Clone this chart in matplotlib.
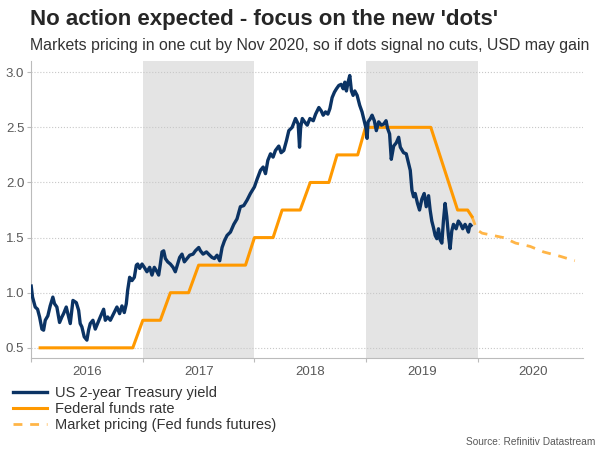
import matplotlib
matplotlib.use('Agg')
import matplotlib.pyplot as plt
from matplotlib.lines import Line2D

plt.rcParams['font.family'] = ['Liberation Sans', 'DejaVu Sans']

# US 2-year Treasury yield (year as decimal, %)
ust_x = [2016.000, 2016.012, 2016.036, 2016.057, 2016.075, 2016.096, 2016.111, 2016.126,
         2016.149, 2016.170, 2016.194, 2016.209, 2016.230, 2016.254, 2016.275, 2016.290,
         2016.314, 2016.335, 2016.350, 2016.374, 2016.404, 2016.425, 2016.439, 2016.454,
         2016.475, 2016.499, 2016.514, 2016.529, 2016.553, 2016.574, 2016.598, 2016.619,
         2016.649, 2016.664, 2016.685, 2016.709, 2016.738, 2016.768, 2016.792, 2016.813,
         2016.834, 2016.852, 2016.864, 2016.882, 2016.903, 2016.924, 2016.942, 2016.954,
         2016.972, 2016.993, 2017.013, 2017.037, 2017.061, 2017.082, 2017.103, 2017.127,
         2017.142, 2017.157, 2017.172, 2017.187, 2017.202, 2017.223, 2017.247, 2017.271,
         2017.291, 2017.312, 2017.330, 2017.351, 2017.372, 2017.396, 2017.420, 2017.450,
         2017.471, 2017.501, 2017.516, 2017.540, 2017.570, 2017.599, 2017.620, 2017.641,
         2017.665, 2017.689, 2017.710, 2017.731, 2017.755, 2017.785, 2017.815, 2017.844,
         2017.874, 2017.904, 2017.934, 2017.964, 2018.000, 2018.024, 2018.054, 2018.078,
         2018.099, 2018.120, 2018.144, 2018.167, 2018.188, 2018.218, 2018.239, 2018.263,
         2018.287, 2018.308, 2018.338, 2018.368, 2018.392, 2018.404,
         2018.414, 2018.429, 2018.449, 2018.473, 2018.497, 2018.527, 2018.548, 2018.577,
         2018.598, 2018.616, 2018.637, 2018.658, 2018.676, 2018.696, 2018.717, 2018.735,
         2018.756, 2018.777, 2018.795, 2018.810, 2018.824, 2018.839, 2018.854, 2018.869,
         2018.884, 2018.899, 2018.920, 2018.943, 2018.964, 2018.985, 2019.000, 2019.009,
         2019.018, 2019.039, 2019.054, 2019.074, 2019.092, 2019.113, 2019.137, 2019.158,
         2019.179, 2019.193, 2019.211, 2019.226, 2019.247, 2019.271, 2019.292, 2019.307,
         2019.336, 2019.360, 2019.381, 2019.396, 2019.411, 2019.426, 2019.440, 2019.461,
         2019.479, 2019.500, 2019.521, 2019.539, 2019.560, 2019.574, 2019.589, 2019.604,
         2019.619, 2019.634, 2019.649, 2019.664, 2019.679, 2019.693, 2019.708, 2019.723,
         2019.738, 2019.753, 2019.768, 2019.783, 2019.807, 2019.827, 2019.848, 2019.866,
         2019.887, 2019.902, 2019.917, 2019.932, 2019.940]
ust_y = [1.06, 0.96, 0.87, 0.85, 0.78, 0.67, 0.66, 0.75,
         0.79, 0.88, 0.96, 0.90, 0.87, 0.73, 0.78, 0.81,
         0.87, 0.78, 0.72, 0.93, 0.91, 0.84, 0.72, 0.69,
         0.60, 0.57, 0.66, 0.72, 0.75, 0.67, 0.73, 0.78,
         0.85, 0.75, 0.78, 0.75, 0.81, 0.87, 0.81, 0.88,
         0.82, 0.90, 1.02, 1.14, 1.11, 1.14, 1.25, 1.26,
         1.22, 1.26, 1.23, 1.19, 1.23, 1.16, 1.23, 1.19,
         1.16, 1.26, 1.37, 1.38, 1.31, 1.28, 1.26, 1.23,
         1.19, 1.26, 1.32, 1.35, 1.28, 1.31, 1.34, 1.35,
         1.38, 1.41, 1.38, 1.35, 1.37, 1.34, 1.32, 1.31,
         1.34, 1.29, 1.41, 1.47, 1.52, 1.55, 1.62, 1.67,
         1.78, 1.79, 1.84, 1.90, 1.96, 2.03, 2.11, 2.14,
         2.08, 2.20, 2.26, 2.23, 2.29, 2.33, 2.27, 2.29,
         2.38, 2.47, 2.50, 2.58, 2.53, 2.32,
         2.50, 2.58, 2.55, 2.52, 2.58, 2.56, 2.62, 2.68,
         2.65, 2.61, 2.64, 2.62, 2.67, 2.77, 2.82, 2.85,
         2.88, 2.89, 2.85, 2.91, 2.83, 2.91, 2.97, 2.83,
         2.79, 2.83, 2.79, 2.70, 2.64, 2.55, 2.49, 2.40,
         2.55, 2.58, 2.61, 2.56, 2.47, 2.55, 2.52, 2.53,
         2.56, 2.49, 2.44, 2.21, 2.33, 2.36, 2.41, 2.32,
         2.27, 2.26, 2.17, 2.11, 1.93, 1.87, 1.90, 1.81,
         1.75, 1.85, 1.90, 1.78, 1.88, 1.75, 1.65, 1.59,
         1.52, 1.49, 1.58, 1.48, 1.45, 1.65, 1.81, 1.69,
         1.52, 1.40, 1.56, 1.62, 1.58, 1.65, 1.62, 1.58,
         1.62, 1.59, 1.55, 1.62, 1.61]

# Federal funds rate (upper bound)
ffr_x = [2016.08, 2016.91, 2017.00, 2017.157, 2017.247, 2017.41, 2017.50, 2017.92,
         2018.00, 2018.167, 2018.248, 2018.41, 2018.50, 2018.667, 2018.74, 2018.925,
         2018.995, 2019.58, 2019.82, 2019.91, 2019.949]
ffr_y = [0.50, 0.50, 0.75, 0.75, 1.00, 1.00, 1.25, 1.25,
         1.50, 1.50, 1.75, 1.75, 2.00, 2.00, 2.25, 2.25,
         2.50, 2.50, 1.75, 1.75, 1.69]

# Market pricing (Fed funds futures)
fut_x = [2019.949, 2019.994, 2020.04, 2020.23, 2020.34, 2020.47, 2020.59, 2020.74, 2020.87]
fut_y = [1.69, 1.57, 1.54, 1.50, 1.45, 1.42, 1.37, 1.33, 1.29]

years = [2016, 2017, 2018, 2019, 2020]
shaded_years = [2017, 2019]

navy = '#0b3364'
orange = '#ff9900'
light_orange = '#ffb547'
grey_txt = '#595959'

fig = plt.figure(figsize=(6, 4.5), dpi=100)
ax = fig.add_axes([0.052, 0.205, 0.919, 0.659])

# grey bands for every other year
for y0 in shaded_years:
    ax.axvspan(y0, y0 + 1, color='#e4e4e4', lw=0, zorder=0)

ax.plot(fut_x, fut_y, color=light_orange, lw=2, ls=(0, (3.2, 2.8)), zorder=2)
ax.plot(ffr_x, ffr_y, color=orange, lw=2.2, zorder=3)
ax.plot(ust_x, ust_y, color=navy, lw=2.4, zorder=4)

ax.set_xlim(2016.0, 2020.94)
ax.set_ylim(0.41, 3.1)
ax.set_yticks([0.5, 1.0, 1.5, 2.0, 2.5, 3.0])
ax.set_yticklabels(['0.5', '1.0', '1.5', '2.0', '2.5', '3.0'])
ax.set_xticks(years)
ax.set_xticklabels([])
ax.set_xticks([y + 0.5 for y in years], minor=True)
ax.set_xticklabels([str(y) for y in years], minor=True)
ax.tick_params(axis='x', which='minor', length=0, pad=6, labelsize=9.5, labelcolor=grey_txt)
ax.tick_params(axis='x', which='major', length=3, color='#bbbbbb')
ax.tick_params(axis='y', length=3, color='#bbbbbb', labelsize=9.5, labelcolor=grey_txt, pad=2)
ax.grid(axis='y', color='#c8c8c8', ls=':', lw=0.8)
ax.set_axisbelow(True)
for s in ['top', 'right']:
    ax.spines[s].set_visible(False)
for s in ['left', 'bottom']:
    ax.spines[s].set_color('#bbbbbb')

fig.text(0.05, 0.957, "No action expected - focus on the new 'dots'", fontsize=16,
         fontweight='bold', color='#262626', va='center')
fig.text(0.05, 0.898, 'Markets pricing in one cut by Nov 2020, so if dots signal no cuts, USD may gain',
         fontsize=11.4, color='#333333', va='center')

handles = [Line2D([], [], color=navy, lw=2.4),
           Line2D([], [], color=orange, lw=2.2),
           Line2D([], [], color=light_orange, lw=2, ls=(0, (3.2, 2.8)))]
labels = ['US 2-year Treasury yield', 'Federal funds rate', 'Market pricing (Fed funds futures)']
fig.legend(handles, labels, loc='upper left', bbox_to_anchor=(0.005, 0.165), frameon=False,
           fontsize=10.5, handlelength=2.3, handletextpad=0.55, labelspacing=0.15,
           labelcolor='#333333', borderaxespad=0.3)

fig.text(0.993, 0.012, 'Source: Refinitiv Datastream', fontsize=7.3, color='#595959', ha='right')

fig.savefig('out.png', dpi=100)
